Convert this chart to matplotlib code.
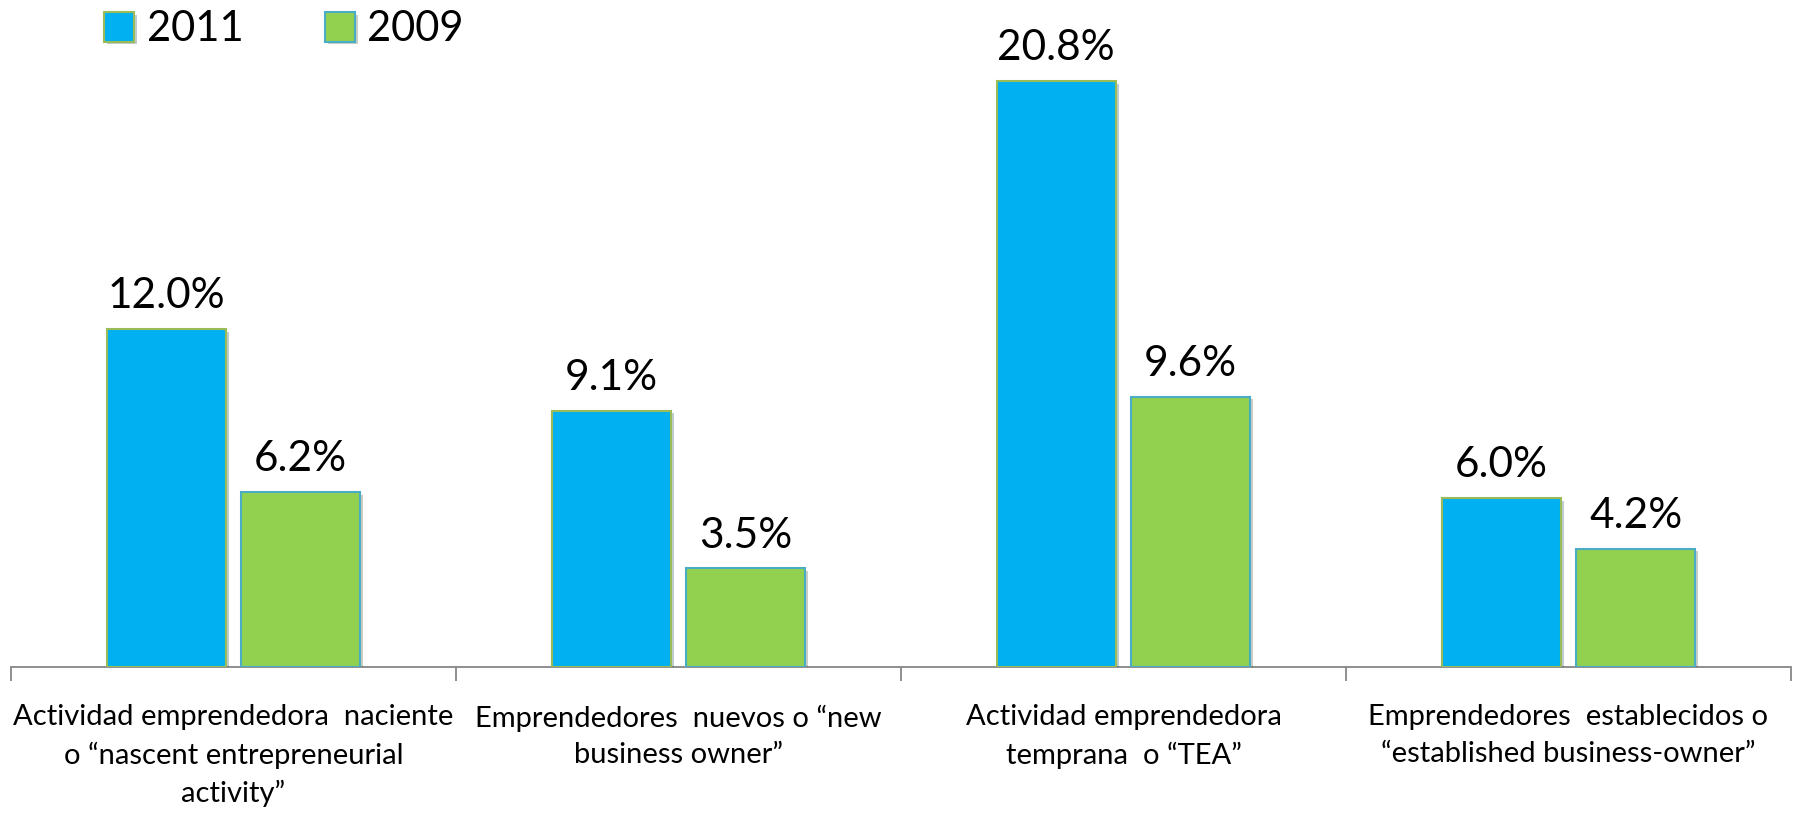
import matplotlib
matplotlib.use("Agg")
import matplotlib.pyplot as plt
import matplotlib.patheffects as pe
import numpy as np

categories = [
    "Actividad emprendedora  naciente\no \u201cnascent entrepreneurial\nactivity\u201d",
    "Emprendedores  nuevos o \u201cnew\nbusiness owner\u201d",
    "Actividad emprendedora\ntemprana  o \u201cTEA\u201d",
    "Emprendedores  establecidos o\n\u201cestablished business-owner\u201d",
]
series_names = ["2011", "2009"]
values_2011 = [12.0, 9.1, 20.8, 6.0]
values_2009 = [6.2, 3.5, 9.6, 4.2]

plt.rcParams['font.family'] = ['Lato', 'DejaVu Sans']

W, H = 1797, 815
fig = plt.figure(figsize=(W / 100, H / 100), dpi=100)
ax = fig.add_axes([11 / W, (815 - 667) / H, (1791 - 11) / W, 648 / H])

x = np.arange(len(categories))
bw = 0.268
off = 0.151
blue = "#00B0F0"
green = "#92D050"
shadow = [pe.SimplePatchShadow(offset=(2, -2), alpha=0.25), pe.Normal()]
b1 = ax.bar(x - off, values_2011, bw, color=blue, edgecolor="#9BBB59", linewidth=1.5,
            label=series_names[0], path_effects=shadow, zorder=3)
b2 = ax.bar(x + off, values_2009, bw, color=green, edgecolor="#4BACC6", linewidth=1.5,
            label=series_names[1], path_effects=shadow, zorder=3)

for bars, vals in ((b1, values_2011), (b2, values_2009)):
    for r, v in zip(bars, vals):
        ax.annotate(f"{v:.1f}%", (r.get_x() + r.get_width() / 2, r.get_height()),
                    xytext=(0, 10), textcoords="offset points", ha="center", va="bottom",
                    fontsize=30.5, color="black")

ax.set_xlim(-0.5, len(categories) - 0.5)
ax.set_ylim(0, 23)
for s in ("top", "right", "left"):
    ax.spines[s].set_visible(False)
ax.spines["bottom"].set_color("#868686")
ax.spines["bottom"].set_linewidth(1.3)
ax.set_yticks([])
ax.set_xticks(np.arange(len(categories) + 1) - 0.5)
ax.set_xticklabels([])
ax.tick_params(axis="x", which="major", length=10, width=1.3, color="#868686", direction="out")
ax.set_xticks(x, minor=True)
ax.set_xticklabels(categories, minor=True, fontsize=21, linespacing=1.5)
ax.tick_params(axis="x", which="minor", length=0, pad=27)

leg = fig.legend(handles=[b1, b2], labels=series_names, loc="upper left",
                 bbox_to_anchor=(96 / W, 1.0 - 2 / H), ncol=2, frameon=False, fontsize=30,
                 handlelength=0.72, handleheight=0.72, handletextpad=0.3, columnspacing=1.95,
                 borderaxespad=0, borderpad=0.2)

fig.savefig("out.png", dpi=100)
